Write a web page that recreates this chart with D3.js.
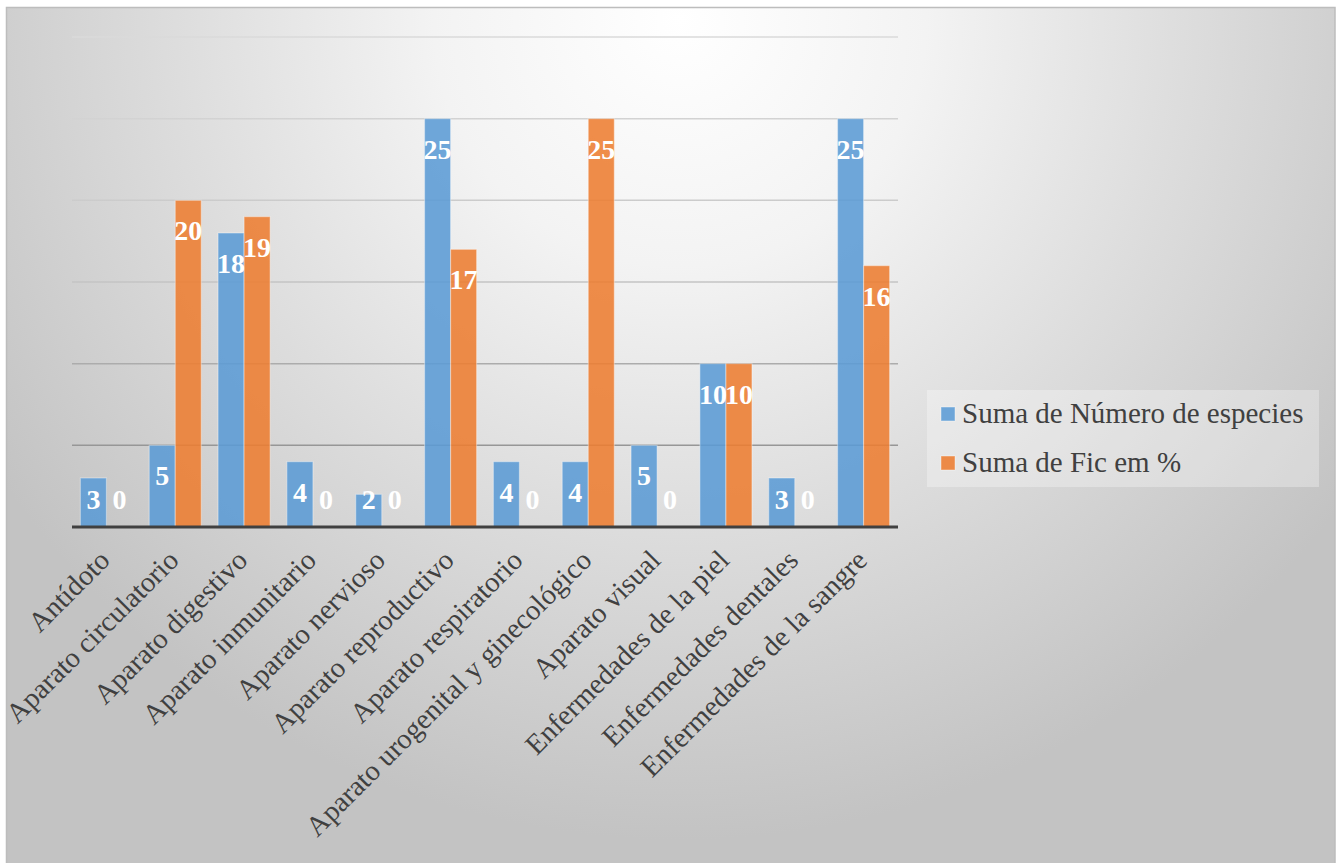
<!DOCTYPE html>
<html>
<head>
<meta charset="utf-8">
<script src="https://cdn.jsdelivr.net/npm/d3@7"></script>
<style>
  html, body { margin: 0; padding: 0; background: #ffffff; }
  svg { display: block; }
</style>
</head>
<body>
<svg id="chart" width="1339" height="863"></svg>
<script>
// Categories and series values
const categories = [
  "Antídoto",
  "Aparato circulatorio",
  "Aparato digestivo",
  "Aparato inmunitario",
  "Aparato nervioso",
  "Aparato reproductivo",
  "Aparato respiratorio",
  "Aparato urogenital y ginecológico",
  "Aparato visual",
  "Enfermedades de la piel",
  "Enfermedades dentales",
  "Enfermedades de la sangre"
];
const seriesNames = ["Suma de Número de especies", "Suma de Fic em %"];
const numeroEspecies = [3, 5, 18, 4, 2, 25, 4, 4, 5, 10, 3, 25];
const ficPercent     = [0, 20, 19, 0, 0, 17, 0, 25, 0, 10, 0, 16];
const yTicks = [0, 5, 10, 15, 20, 25, 30];
const seriesColors = ["#5b9bd5", "#ed7d31"];

const W = 1339, H = 863;
const plot = { left: 72, right: 898, top: 37, bottom: 527 };
const serif = "'Liberation Serif', 'Times New Roman', serif";

const svg = d3.select("#chart");
const defs = svg.append("defs");

// Chart-area background: soft radial gradient, white near the top centre
const bg = defs.append("radialGradient")
  .attr("id", "bgGrad")
  .attr("gradientUnits", "userSpaceOnUse")
  .attr("cx", 680).attr("cy", 20).attr("r", 820);
bg.append("stop").attr("offset", 0).attr("stop-color", "#ffffff");
bg.append("stop").attr("offset", 0.3).attr("stop-color", "#f3f3f3");
bg.append("stop").attr("offset", 0.6).attr("stop-color", "#dedede");
bg.append("stop").attr("offset", 1).attr("stop-color", "#c3c3c3");

// Gridlines get darker toward the axis
const gg = defs.append("linearGradient")
  .attr("id", "gridGrad")
  .attr("gradientUnits", "userSpaceOnUse")
  .attr("x1", 0).attr("y1", plot.top).attr("x2", 0).attr("y2", plot.bottom);
gg.append("stop").attr("offset", 0).attr("stop-color", "#dadada");
gg.append("stop").attr("offset", 0.5).attr("stop-color", "#c4c4c4");
gg.append("stop").attr("offset", 0.8).attr("stop-color", "#999999");
gg.append("stop").attr("offset", 1).attr("stop-color", "#8a8a8a");

svg.append("rect")
  .attr("x", 6.5).attr("y", 7.5)
  .attr("width", 1328.5).attr("height", 858)
  .attr("fill", "url(#bgGrad)")
  .attr("stroke", "#bdbdbd")
  .attr("stroke-width", 1.5);

// Scales
const x0 = d3.scaleBand()
  .domain(categories)
  .range([plot.left, plot.right])
  .paddingInner(0.2436)
  .paddingOuter(0.1218);
const x1 = d3.scaleBand()
  .domain(d3.range(seriesNames.length))
  .range([0, x0.bandwidth()]);
const y = d3.scaleLinear().domain([0, 30]).range([plot.bottom, plot.top]);

// Horizontal gridlines
svg.append("g")
  .selectAll("line")
  .data(yTicks.filter(t => t > 0))
  .join("line")
  .attr("x1", plot.left).attr("x2", plot.right)
  .attr("y1", d => y(d)).attr("y2", d => y(d))
  .attr("stroke", "url(#gridGrad)")
  .attr("stroke-width", 1.5);

// Bars
const rows = categories.map((c, i) => ({ cat: c, vals: [numeroEspecies[i], ficPercent[i]] }));
const groups = svg.append("g")
  .selectAll("g")
  .data(rows)
  .join("g")
  .attr("transform", d => `translate(${x0(d.cat)},0)`);

groups.selectAll("rect")
  .data(d => d.vals.map((v, s) => ({ v, s })))
  .join("rect")
  .attr("x", d => x1(d.s))
  .attr("y", d => y(d.v))
  .attr("width", x1.bandwidth())
  .attr("height", d => y(0) - y(d.v))
  .attr("fill", d => seriesColors[d.s])
  .attr("fill-opacity", 0.88)
  .attr("stroke", "#ffffff")
  .attr("stroke-opacity", 0.35)
  .attr("stroke-width", 1.2);

// Value labels, inside the bar end
groups.selectAll("text")
  .data(d => d.vals.map((v, s) => ({ v, s })))
  .join("text")
  .attr("x", d => x1(d.s) + x1.bandwidth() / 2)
  .attr("y", d => Math.min(y(d.v) + 40, 509))
  .attr("text-anchor", "middle")
  .attr("font-family", serif)
  .attr("font-weight", "bold")
  .attr("font-size", 28)
  .attr("fill", "#ffffff")
  .text(d => d.v);

// Category axis line
svg.append("line")
  .attr("x1", plot.left).attr("x2", plot.right)
  .attr("y1", y(0)).attr("y2", y(0))
  .attr("stroke", "#404040")
  .attr("stroke-width", 3);

// Rotated category labels
svg.append("g")
  .selectAll("text")
  .data(categories)
  .join("text")
  .attr("transform", d => `translate(${x0(d) + x0.bandwidth() / 2 + 5},562) rotate(-45)`)
  .attr("text-anchor", "end")
  .attr("font-family", serif)
  .attr("font-size", 28.5)
  .attr("fill", "#404040")
  .text(d => d);

// Legend
const legend = svg.append("g");
legend.append("rect")
  .attr("x", 927).attr("y", 390)
  .attr("width", 392).attr("height", 97)
  .attr("fill", "#ffffff")
  .attr("fill-opacity", 0.3);
const items = legend.selectAll("g")
  .data(seriesNames)
  .join("g")
  .attr("transform", (d, i) => `translate(941,${407 + i * 49})`);
items.append("rect")
  .attr("width", 14).attr("height", 14)
  .attr("fill", (d, i) => seriesColors[i])
  .attr("fill-opacity", 0.88)
  .attr("stroke", "#ffffff")
  .attr("stroke-opacity", 0.4);
items.append("text")
  .attr("x", 21).attr("y", 16)
  .attr("font-family", serif)
  .attr("font-size", 29)
  .attr("fill", "#404040")
  .text(d => d);
</script>
</body>
</html>
